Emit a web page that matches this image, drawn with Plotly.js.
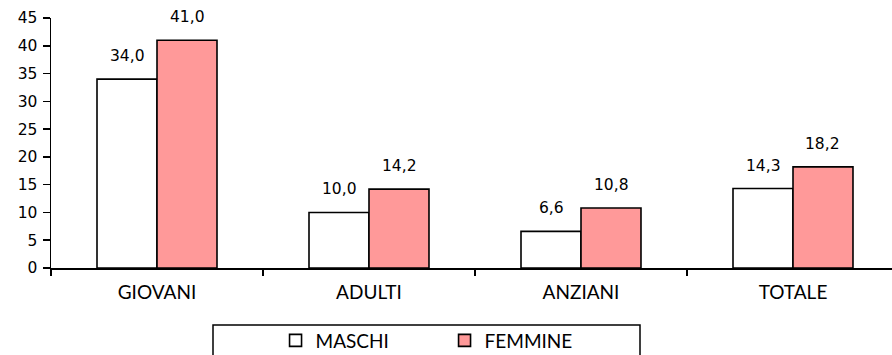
<!DOCTYPE html>
<html>
<head>
<meta charset="utf-8">
<script src="https://cdn.plot.ly/plotly-3.0.1.min.js"></script>
<style>html,body{margin:0;padding:0;background:#fff;}#chart{width:892px;height:355px;}</style>
</head>
<body>
<div id="chart"></div>
<script>
const categories = ["GIOVANI", "ADULTI", "ANZIANI", "TOTALE"];
const maschi = [34.0, 10.0, 6.6, 14.3];
const femmine = [41.0, 14.2, 10.8, 18.2];
const seriesNames = ["MASCHI", "FEMMINE"];

const fmt = v => v.toFixed(1).replace(".", ",");
const labelFont = {family: "DejaVu Sans", size: 15.5, color: "#000"};
const catFont = {family: "Lato", size: 19, color: "#000"};

const traces = [
  {type: "bar", name: seriesNames[0], x: categories, y: maschi,
   marker: {color: "#FFFFFF", line: {color: "#000", width: 1.6}}},
  {type: "bar", name: seriesNames[1], x: categories, y: femmine,
   marker: {color: "#FF9999", line: {color: "#000", width: 1.6}}}
];

const half = 0.1415;
const annotations = [];
categories.forEach((c, i) => {
  annotations.push({x: i - half, y: maschi[i], xref: "x", yref: "y", text: fmt(maschi[i]),
    showarrow: false, yanchor: "bottom", yshift: 12, font: labelFont});
  annotations.push({x: i + half, y: femmine[i], xref: "x", yref: "y", text: fmt(femmine[i]),
    showarrow: false, yanchor: "bottom", yshift: 12, font: labelFont});
});

const layout = {
  width: 892, height: 355,
  margin: {l: 51, r: 0, t: 18, b: 87, autoexpand: false},
  paper_bgcolor: "#fff", plot_bgcolor: "#fff",
  barmode: "group", bargap: 0.434, bargroupgap: 0,
  showlegend: true,
  legend: {orientation: "h", x: 0.267, xanchor: "left", y: -0.214, yanchor: "top",
    font: catFont, entrywidth: 124, bgcolor: "rgba(0,0,0,0)", borderwidth: 0,
    traceorder: "normal"},
  xaxis: {type: "category", range: [-0.5, 3.467], tickson: "boundaries", automargin: false,
    showline: true, linecolor: "#000", linewidth: 1.5, ticks: "outside", ticklen: 6,
    tickcolor: "#000", tickwidth: 1.5, showgrid: false, zeroline: false,
    tickfont: catFont, ticklabelstandoff: 7, fixedrange: true},
  yaxis: {range: [0, 45], dtick: 5, tick0: 0, showline: true, linecolor: "#000", linewidth: 1.5,
    automargin: false,
    ticks: "outside", ticklen: 7, tickcolor: "#000", tickwidth: 1.5, showgrid: false,
    zeroline: false, tickfont: {family: "DejaVu Sans", size: 15.5, color: "#000"},
    ticklabelstandoff: 2, fixedrange: true},
  annotations: annotations,
  shapes: [{type: "rect", xref: "paper", yref: "paper",
    x0: (213 - 51) / 841, x1: (640 - 51) / 841, y0: (268 - 325) / 250, y1: (268 - 365) / 250,
    line: {color: "#000", width: 1.5}, fillcolor: "rgba(0,0,0,0)", layer: "above"}]
};

Plotly.newPlot("chart", traces, layout, {displayModeBar: false, staticPlot: true});
</script>
</body>
</html>
